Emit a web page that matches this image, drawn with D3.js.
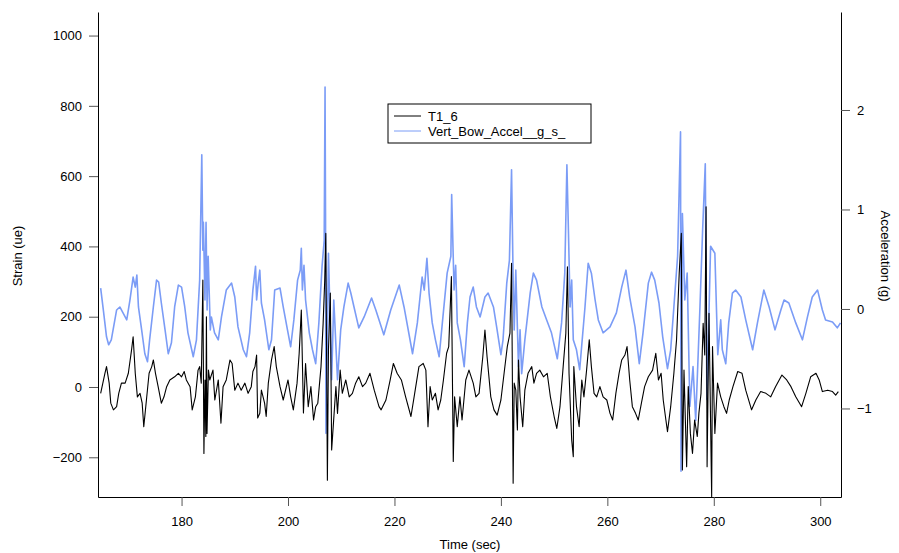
<!DOCTYPE html>
<html>
<head>
<meta charset="utf-8">
<script src="https://cdn.jsdelivr.net/npm/d3@7"></script>
<style>
  body { margin: 0; background: #fff; }
  text { font-family: "Liberation Sans", Arial, sans-serif; }
</style>
</head>
<body>
<div id="chart"></div>
<script>
// Vert_Bow_Accel__g_s_ (right axis, g)
var accelTime = [164.8,165.3,165.9,166.3,166.8,167.8,168.4,169.0,169.7,170.3,
  170.9,171.3,171.6,171.9,172.5,173.1,173.6,174.0,174.7,175.3,
  175.7,176.2,176.9,177.5,178.1,178.7,179.4,180.0,180.6,181.2,
  182.2,182.8,183.4,183.8,184.0,184.1,184.4,184.6,184.8,185.0,
  185.4,185.6,186.2,186.9,187.5,188.4,189.4,190.0,190.6,191.6,
  192.2,192.8,193.4,193.9,194.1,194.4,194.7,195.0,195.6,196.4,
  196.9,197.5,198.5,199.1,199.9,200.5,201.1,201.8,202.3,202.5,
  202.7,203.0,203.3,204.0,204.6,205.2,205.8,206.4,206.8,206.96,
  207.05,207.13,207.6,208.2,208.6,209.3,209.9,210.5,211.3,211.8,
  212.4,213.3,214.3,215.7,216.5,218.0,219.3,220.9,221.8,223.4,
  224.3,225.2,225.6,226.1,226.5,227.1,227.7,228.4,229.0,229.9,
  230.6,230.75,231.2,231.5,231.8,232.4,233.1,233.7,234.2,234.8,
  235.4,236.1,237.0,237.6,238.6,239.2,240.0,240.4,241.1,241.6,
  242.0,242.3,242.5,242.8,243.3,243.6,243.9,244.5,245.5,246.1,
  246.7,247.7,248.6,249.5,250.6,251.4,252.0,252.4,252.7,253.0,
  253.3,253.6,254.2,254.8,255.8,256.4,257.0,257.7,258.3,259.2,
  260.5,261.7,262.7,263.5,264.2,265.2,266.0,266.7,267.7,268.3,
  268.9,269.7,270.4,271.3,271.9,272.5,273.2,273.75,273.84,274.1,
  274.55,275.0,275.5,276.1,276.6,277.4,277.9,278.4,278.7,279.4,
  280.2,280.75,281.3,281.6,282.25,282.8,283.5,284.1,285.1,286.0,
  287.3,288.2,289.4,290.4,291.5,292.6,293.2,294.1,295.4,296.65,
  297.6,298.5,299.5,300.4,301.0,302.3,303.2,303.8];
var accelValue = [0.21,-0.01,-0.28,-0.36,-0.31,-0.01,0.02,-0.04,-0.11,0.09,
  0.32,0.22,0.34,0.02,-0.21,-0.45,-0.53,-0.31,0.02,0.29,
  0.27,0.06,-0.21,-0.45,-0.34,0.02,0.24,0.22,0.02,-0.24,
  -0.48,-0.31,0.29,1.55,0.59,0.87,0.09,0.87,-0.01,0.53,
  -0.21,-0.08,-0.24,-0.31,-0.08,0.19,0.26,0.12,-0.18,-0.41,
  -0.48,-0.24,0.19,0.43,0.09,0.26,0.39,0.06,-0.11,-0.41,
  -0.31,0.19,0.21,0.02,-0.21,-0.38,-0.11,0.29,0.39,0.61,
  0.19,0.44,0.09,-0.24,-0.41,-0.55,-0.14,0.43,0.69,2.23,
  0.96,-1.25,0.56,-0.71,0.09,-0.71,-0.21,0.02,0.26,0.16,
  0.02,-0.19,-0.08,0.11,-0.01,-0.26,-0.01,0.24,0.02,-0.45,
  -0.14,0.32,0.19,0.51,0.16,-0.14,-0.31,-0.48,-0.14,0.36,
  0.53,1.15,0.19,0.44,-0.14,-0.31,-0.58,-0.14,0.12,0.22,
  0.02,-0.08,0.12,0.16,0.02,-0.18,-0.46,-0.31,0.26,0.49,
  1.40,0.29,-0.21,0.39,-0.58,-0.21,-0.65,-0.31,0.16,0.36,
  0.29,0.02,-0.11,-0.24,-0.50,-0.14,0.36,1.45,0.76,0.02,
  0.29,-0.31,-0.41,-0.61,0.02,0.46,0.36,0.09,-0.11,-0.24,
  -0.18,-0.04,0.22,0.39,0.12,-0.18,-0.55,-0.24,0.26,0.37,
  0.29,0.06,-0.28,-0.60,-0.41,0.02,0.53,1.78,-1.63,0.96,
  0.09,0.36,-0.98,-0.58,-1.12,0.02,0.79,1.46,-0.91,0.63,
  0.56,-0.46,-0.11,-0.41,-0.55,-0.14,0.16,0.19,0.12,-0.11,
  -0.41,-0.14,0.19,0.02,-0.21,-0.01,0.09,0.06,-0.14,-0.31,
  -0.08,0.12,0.19,-0.01,-0.11,-0.13,-0.19,-0.14];

// T1_6 (left axis, ue)
var strainTime = [164.8,165.6,165.9,166.4,166.7,167.2,167.8,168.2,168.7,169.4,
  170.0,170.6,170.9,171.3,171.7,172.2,172.6,172.9,173.4,173.9,
  174.4,174.7,175.1,175.6,176.2,176.7,177.2,177.8,178.7,179.4,
  180.0,180.5,180.9,181.6,182.0,182.6,183.1,183.4,183.7,184.0,
  184.2,184.4,184.56,184.67,184.78,185.05,185.3,185.9,186.25,186.9,
  187.4,187.8,188.4,189.1,189.5,190.0,190.6,191.2,191.9,192.5,
  193.1,193.4,193.8,194.1,194.3,194.7,195.0,195.6,195.9,196.3,
  196.9,197.4,197.8,198.5,199.1,200.0,200.5,201.0,201.7,202.1,
  202.5,202.9,203.3,203.8,204.3,204.8,205.2,205.6,206.2,206.6,
  206.9,207.1,207.4,207.6,207.95,208.2,209.0,209.3,209.8,210.2,
  210.85,211.5,212.1,212.7,213.3,214.0,214.6,215.4,216.2,217.1,
  217.5,218.4,219.2,219.8,220.5,221.3,222.1,223.1,223.8,224.6,
  225.4,225.9,226.3,226.7,227.1,227.7,228.2,228.7,229.2,229.8,
  230.2,230.7,231.05,231.3,231.8,232.3,232.7,233.4,234.0,234.8,
  235.3,235.9,236.6,237.0,237.4,238.1,238.7,239.3,240.0,240.6,
  241.2,241.7,242.0,242.3,242.5,242.8,243.1,243.3,243.6,244.1,
  244.5,245.1,245.8,246.2,246.7,247.3,248.0,248.7,249.3,250.0,
  250.5,251.1,251.7,252.2,252.5,252.8,253.3,253.6,253.7,254.2,
  254.7,255.2,255.6,256.1,256.6,257.0,257.5,258.0,258.6,259.2,
  259.9,260.5,261.0,261.6,262.2,262.7,263.3,263.7,264.2,264.7,
  265.3,265.8,266.4,267.0,267.7,268.5,269.1,269.6,270.1,270.5,
  271.0,271.3,271.9,272.5,273.0,273.5,273.9,274.1,274.4,274.9,
  275.2,275.6,276.0,276.4,276.9,277.2,277.6,278.0,278.3,278.55,
  278.74,279.1,279.6,279.76,280.2,280.7,281.3,281.9,282.4,282.9,
  283.6,284.5,285.3,286.0,287.1,287.9,288.8,289.8,290.7,291.6,
  292.8,293.7,294.5,295.4,296.5,297.3,298.2,299.2,299.8,300.4,
  301.4,302.3,302.9,303.4];
var strainValue = [-18,39,58,11,-46,-65,-56,-18,11,11,
  39,105,143,39,-28,-18,-46,-113,-37,39,
  58,77,39,1,-46,-28,1,20,29,39,
  29,44,20,1,-65,-28,48,58,11,304,
  -189,20,-141,200,-132,48,20,48,-37,20,
  -103,1,20,77,67,-9,11,-9,11,-18,
  1,44,58,91,-88,-75,-9,-46,-84,11,
  77,115,58,1,-37,20,-28,-65,11,96,
  219,-74,67,-56,1,-94,-56,-46,58,181,
  304,437,-265,105,267,-179,1,-75,48,-18,
  20,-28,-18,11,29,1,11,39,-9,-56,
  -65,-37,20,67,39,20,-28,-84,-18,58,
  67,48,-113,1,-37,-18,-65,-37,20,96,
  115,314,-212,-28,-113,-28,-94,20,48,11,
  -28,-18,86,162,86,-28,-65,-80,-37,39,
  115,153,352,-274,11,-9,-122,77,-28,-113,
  -9,39,58,11,39,48,29,39,-28,-84,
  -118,-56,58,153,342,39,-151,-198,58,-56,
  -113,20,-28,48,134,58,-18,-28,1,-28,
  -37,-75,-94,-18,39,77,91,115,20,-56,
  -75,-94,-46,1,29,48,96,20,39,-37,
  -94,-127,-56,39,134,323,437,-236,48,-227,
  1,-132,-189,-94,-141,-75,-18,181,91,513,
  -227,210,-312,115,-132,11,-28,-56,-75,-37,
  1,44,39,-9,-65,-37,-13,-18,-28,1,
  34,20,1,-28,-56,-18,29,39,20,-13,
  -9,-13,-23,-13];

var timeTicks = [180, 200, 220, 240, 260, 280, 300];
var strainTicks = [-200, 0, 200, 400, 600, 800, 1000];
var accelTicks = [-1, 0, 1, 2];
var seriesNames = ["T1_6", "Vert_Bow_Accel__g_s_"];

var width = 899, height = 553;
var plotLeft = 98, plotRight = 841, plotTop = 12, plotBottom = 497;
var blue = "#7b9cf6";

var svg = d3.select("#chart").append("svg")
  .attr("width", width).attr("height", height);

var x = d3.scaleLinear().domain([164.3, 303.9]).range([plotLeft, plotRight]);
var yL = d3.scaleLinear().domain([-313, 1067]).range([plotBottom, plotTop]);
var yR = d3.scaleLinear().domain([-1.89, 2.985]).range([plotBottom, plotTop]);

var accel = d3.zip(accelTime, accelValue);
var strain = d3.zip(strainTime, strainValue);

svg.append("path").datum(accel)
  .attr("fill", "none").attr("stroke", blue).attr("stroke-width", 1.6)
  .attr("stroke-linejoin", "round")
  .attr("d", d3.line().x(function(d) { return x(d[0]); }).y(function(d) { return yR(d[1]); }));

svg.append("path").datum(strain)
  .attr("fill", "none").attr("stroke", "#000").attr("stroke-width", 1.1)
  .attr("stroke-linejoin", "round")
  .attr("d", d3.line().x(function(d) { return x(d[0]); }).y(function(d) { return yL(d[1]); }));

// axes
function styleAxis(g) {
  g.selectAll(".domain").attr("stroke", "#000");
  g.selectAll(".tick line").attr("stroke", "#555");
  g.selectAll(".tick text").attr("fill", "#000").attr("font-size", 13)
    .attr("font-family", "Liberation Sans, Arial, sans-serif");
}

svg.append("g").attr("transform", "translate(0," + plotBottom + ")")
  .call(d3.axisBottom(x).tickValues(timeTicks).tickFormat(d3.format("d"))
    .tickSize(9).tickPadding(11).tickSizeOuter(0))
  .call(styleAxis);

svg.append("g").attr("transform", "translate(" + plotLeft + ",0)")
  .call(d3.axisLeft(yL).tickValues(strainTicks).tickFormat(d3.format("d"))
    .tickSize(9).tickPadding(7).tickSizeOuter(0))
  .call(styleAxis);

svg.append("g").attr("transform", "translate(" + plotRight + ",0)")
  .call(d3.axisRight(yR).tickValues(accelTicks).tickFormat(d3.format("d"))
    .tickSize(9).tickPadding(7).tickSizeOuter(0))
  .call(styleAxis);

svg.append("text").attr("x", 470).attr("y", 549).attr("text-anchor", "middle")
  .attr("font-size", 13).text("Time (sec)");
svg.append("text").attr("transform", "translate(22,256) rotate(-90)")
  .attr("text-anchor", "middle").attr("font-size", 13).text("Strain (ue)");
svg.append("text").attr("transform", "translate(881,256) rotate(90)")
  .attr("text-anchor", "middle").attr("font-size", 13).text("Acceleration (g)");

// legend
var lg = svg.append("g").attr("transform", "translate(388,104)");
lg.append("rect").attr("width", 203).attr("height", 39)
  .attr("fill", "#fff").attr("stroke", "#000");
var colors = ["#000", blue];
seriesNames.forEach(function(name, i) {
  var yy = 12 + i * 15;
  lg.append("line").attr("x1", 6).attr("x2", 33).attr("y1", yy).attr("y2", yy)
    .attr("stroke", colors[i]).attr("stroke-width", 1);
  lg.append("text").attr("x", 40).attr("y", yy + 5).attr("font-size", 13).text(name);
});
</script>
</body>
</html>
